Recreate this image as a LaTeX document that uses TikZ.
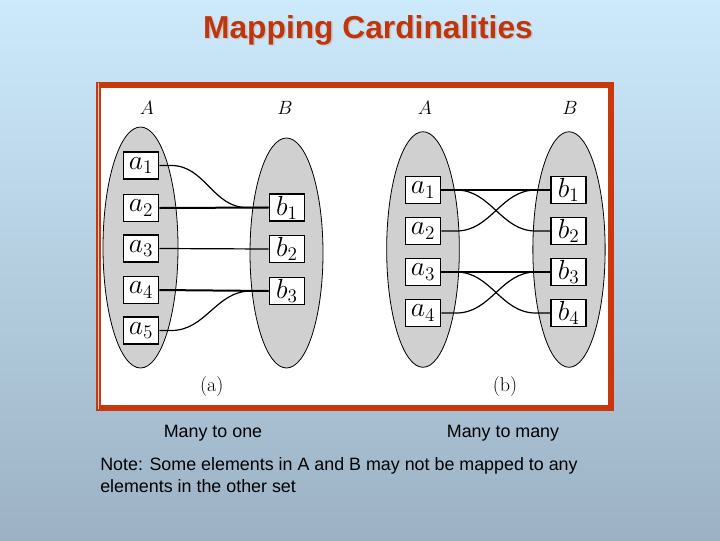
\documentclass[tikz,border=0pt]{standalone}
\usepackage{fontspec}
\newfontfamily\arialfont{Liberation Sans}
\usepackage{tikz}
\usetikzlibrary{shapes.geometric}

\definecolor{titlered}{RGB}{192,54,12}
\definecolor{framered}{RGB}{200,56,12}
\definecolor{bgtop}{RGB}{204,234,252}
\definecolor{bgbottom}{RGB}{156,178,196}
\definecolor{setgray}{RGB}{208,208,208}

\begin{document}
\begin{tikzpicture}[
  x=0.75pt, y=-0.75pt,
  elem/.style={draw, line width=1.2pt, fill=white, inner sep=0pt,
               minimum width=26.25pt, minimum height=20.25pt,
               font=\fontsize{20.74}{22}\selectfont},
  set/.style={ellipse, draw, fill=setgray, inner sep=0pt, line width=0.6pt},
  setname/.style={font=\fontsize{14.4}{15}\selectfont},
  link/.style={line width=0.9pt},
  tielink/.style={line width=1.5pt},
  caption/.style={font=\arialfont\fontsize{13.4}{16.5}\selectfont}
]
% slide background
\shade[top color=bgtop, bottom color=bgbottom] (0,0) rectangle (720,540);
\useasboundingbox (0,0) rectangle (720,540);

\node[font=\arialfont\bfseries\fontsize{23.8}{28}\selectfont, text=gray!45]
  (titleshade) at (369.5,31.5) {Mapping Cardinalities};
\node[font=\arialfont\bfseries\fontsize{23.8}{28}\selectfont, text=titlered]
  (title) at (368,30) {Mapping Cardinalities};

% framed figure
\fill[framered] (95.5,81.5) rectangle (614,411);
\fill[white] (100.5,88) rectangle (608,405);
\draw[framered!25, line width=0.6pt] (98.2,83) -- (98.2,409);

% (a) many to one
\node[set, minimum width=56.25pt, minimum height=180.75pt] (setA) at (140.5,247.5) {};
\node[set, minimum width=54.75pt, minimum height=172.5pt] (setB) at (286.5,253) {};
\node[setname] (nameA) at (147,108) {$A$};
\node[setname] (nameB) at (285,108) {$B$};

\node[elem] (a1) at (141,165.5) {$a_1$};
\node[elem] (a2) at (141,208) {$a_2$};
\node[elem] (a3) at (141,248.5) {$a_3$};
\node[elem] (a4) at (141,290) {$a_4$};
\node[elem] (a5) at (141,330.5) {$a_5$};
\node[elem] (b1) at (287,207.5) {$b_1$};
\node[elem] (b2) at (287,249) {$b_2$};
\node[elem] (b3) at (287,291) {$b_3$};

\draw[link] (a1.east) -- ++(12,0) to[out=0,in=180] ([xshift=-16.5pt]b1.west) -- (b1.west);
\draw[tielink] (a2.east) -- (b1.west);
\draw[link] (a3.east) -- (b2.west);
\draw[tielink] (a4.east) -- (b3.west);
\draw[link] (a5.east) -- ++(12,0) to[out=0,in=180] ([xshift=-13.5pt]b3.west) -- (b3.west);

\node[font=\fontsize{15}{18}\selectfont] (taga) at (211.7,386) {(a)};

% (b) many to many
\node[set, minimum width=54.5pt, minimum height=176.7pt] (setC) at (423,249.5) {};
\node[set, minimum width=54.2pt, minimum height=176.7pt] (setD) at (569,249.5) {};
\node[setname] (nameC) at (425,108) {$A$};
\node[setname] (nameD) at (570,108) {$B$};

\node[elem] (c1) at (423,190) {$a_1$};
\node[elem] (c2) at (423,231) {$a_2$};
\node[elem] (c3) at (423,272) {$a_3$};
\node[elem] (c4) at (423,313) {$a_4$};
\node[elem] (d1) at (568.7,190) {$b_1$};
\node[elem] (d2) at (568.7,231) {$b_2$};
\node[elem] (d3) at (568.7,272) {$b_3$};
\node[elem] (d4) at (568.7,313) {$b_4$};

\draw[link] (c1.east) -- (d1.west);
\draw[link] (c1.east) -- ++(15,0) to[out=0,in=180] ([xshift=-11pt]d2.west) -- (d2.west);
\draw[link] (c2.east) -- ++(15,0) to[out=0,in=180] ([xshift=-11pt]d1.west) -- (d1.west);
\draw[link] (c3.east) -- (d3.west);
\draw[link] (c3.east) -- ++(15,0) to[out=0,in=180] ([xshift=-11pt]d4.west) -- (d4.west);
\draw[link] (c4.east) -- ++(15,0) to[out=0,in=180] ([xshift=-11pt]d3.west) -- (d3.west);

\node[font=\fontsize{15}{18}\selectfont] (tagb) at (505,386) {(b)};

% captions
\node[caption] (kinda) at (213,433) {Many to one};
\node[caption] (kindb) at (503,433) {Many to many};
\node[caption, anchor=north west, align=left, inner sep=0pt] (note) at (100,457)
  {Note: Some elements in A and B may not be mapped to any\\
   elements in the other set};
\end{tikzpicture}
\end{document}
